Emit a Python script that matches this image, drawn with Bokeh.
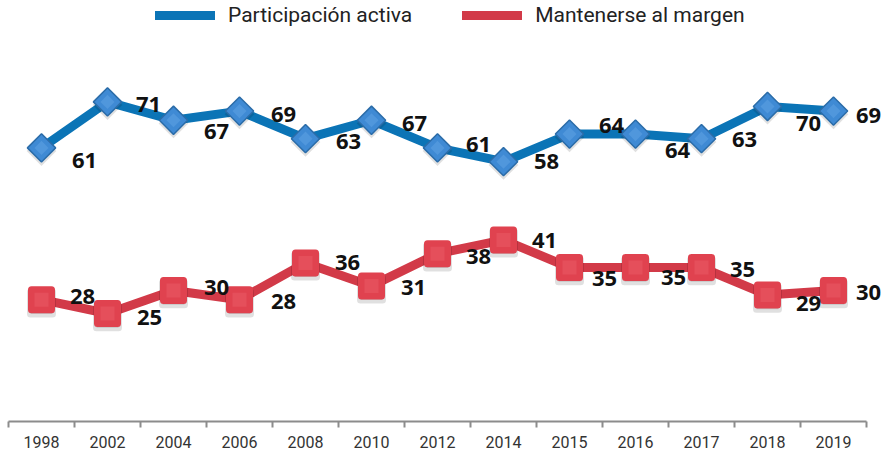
import math
from bokeh.plotting import figure
from bokeh.models import (ColumnDataSource, FixedTicker, LabelSet, Legend,
                          LegendItem, Range1d)
from bokeh.core.properties import value
from bokeh.embed import file_html
from bokeh.resources import INLINE

# ---- data ----
years = ["1998", "2002", "2004", "2006", "2008", "2010", "2012",
         "2014", "2015", "2016", "2017", "2018", "2019"]
activa = [61, 71, 67, 69, 63, 67, 61, 58, 64, 64, 63, 70, 69]
margen = [28, 25, 30, 28, 36, 31, 38, 41, 35, 35, 35, 29, 30]
series_names = ["Participación activa", "Mantenerse al margen"]

# ---- label placement (screen px, layout only) ----
activa_dx = [43, 41, 43, 44, 43, 43, 41, 43, 42, 42, 43, 41, 35]
activa_dy = [13, 3, 11, 3, 3, 3, -3, 0, -9, 16, 1, 17, 4]
margen_dx = [41, 42, 43, 44, 42, 42, 41, 41, 35, 38, 41, 41, 35]
margen_dy = [-3, 4, -3, 2, 0, 2, 3, 1, 11, 10, 2, 8, 2]

BLUE_LINE = "#0b74b6"
BLUE_FILL = "#3f8ad4"
BLUE_EDGE = "#2b6ca8"
RED_LINE = "#d23a48"
RED_FILL = "#e0424f"

xs = list(range(len(years)))
n = len(years)

p = figure(width=889, height=456, output_backend="svg", toolbar_location=None,
           x_range=Range1d(-0.5, -0.5 + 881 / 66), y_range=Range1d(1.52, 93.04),
           y_axis_location=None, min_border_left=8, min_border_right=0,
           min_border_top=0, min_border_bottom=35)
p.outline_line_color = None
p.grid.visible = False
p.background_fill_color = "white"

src_a = ColumnDataSource(dict(x=xs, v=activa, t=[str(v) for v in activa],
                              dx=activa_dx, dy=[-d for d in activa_dy],
                              sh=[v - 0.7 for v in activa]))
src_m = ColumnDataSource(dict(x=xs, v=margen, t=[str(v) for v in margen],
                              dx=margen_dx, dy=[-d for d in margen_dy],
                              sh=[v - 0.7 for v in margen]))

la = p.line("x", "v", source=src_a, line_color=BLUE_LINE, line_width=9,
            line_join="round", line_cap="round")
lm = p.line("x", "v", source=src_m, line_color=RED_LINE, line_width=9,
            line_join="round", line_cap="round")

# shadows
p.scatter("x", "sh", source=src_a, marker="square", angle=math.pi / 4, size=21,
          fill_color="black", fill_alpha=0.12, line_color=None)
p.scatter("x", "sh", source=src_m, marker="square", size=22, line_width=7,
          line_join="round", fill_color="black", fill_alpha=0.12,
          line_color="black", line_alpha=0.12)

# markers
p.scatter("x", "v", source=src_a, marker="square", angle=math.pi / 4, size=20,
          fill_color=BLUE_FILL, line_color=BLUE_EDGE, line_width=1.5)
p.scatter("x", "v", source=src_a, marker="square", angle=math.pi / 4, size=10,
          fill_color="#6fb0ea", fill_alpha=0.35, line_color=None)
p.scatter("x", "v", source=src_m, marker="square", size=20, line_width=7,
          line_join="round", fill_color=RED_FILL, line_color=RED_FILL)
p.scatter("x", "v", source=src_m, marker="square", size=14,
          fill_color="#ee6874", fill_alpha=0.35, line_color=None)

for src in (src_a, src_m):
    p.add_layout(LabelSet(x="x", y="v", text="t", source=src,
                          x_offset="dx", y_offset="dy",
                          text_font=value("Open Sans"), text_font_style="bold",
                          text_font_size="22px", text_color="#111111",
                          text_align="center", text_baseline="middle"))

# x axis with boundary ticks, limited to the category span
ax = p.xaxis[0]
ax.bounds = (-0.5, n - 0.5)
ax.ticker = FixedTicker(ticks=xs, minor_ticks=[i - 0.5 for i in range(n + 1)])
ax.major_label_overrides = {i: y for i, y in enumerate(years)}
ax.major_tick_in = 0
ax.major_tick_out = 0
ax.minor_tick_in = 0
ax.minor_tick_out = 6
ax.minor_tick_line_color = "#8c8c8c"
ax.minor_tick_line_width = 2
ax.axis_line_color = "#8c8c8c"
ax.axis_line_width = 2
ax.major_label_text_font = "Roboto"
ax.major_label_text_font_size = "16px"
ax.major_label_text_color = "#333333"
ax.major_label_standoff = 8

legend = Legend(items=[LegendItem(label=series_names[0], renderers=[la]),
                       LegendItem(label=series_names[1], renderers=[lm])],
                orientation="horizontal", location=(147, 394),
                glyph_width=60, glyph_height=20, label_standoff=13, spacing=50,
                padding=0, margin=0, border_line_alpha=0,
                background_fill_alpha=0, label_text_font="Roboto",
                label_text_font_size="21px", label_text_color="#222222")
p.add_layout(legend)

open("out.html", "w").write(file_html(p, INLINE))
